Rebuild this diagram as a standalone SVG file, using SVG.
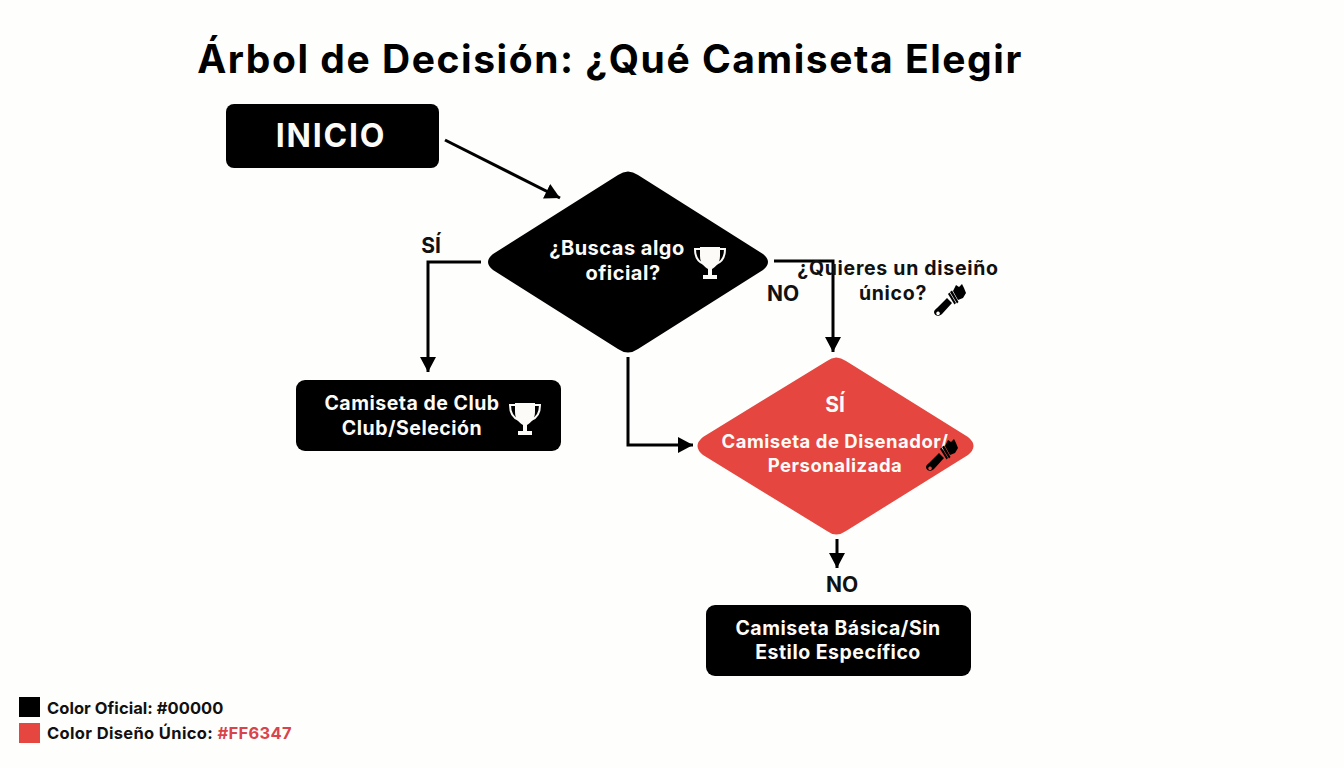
<svg xmlns="http://www.w3.org/2000/svg" width="1344" height="768" viewBox="0 0 1344 768">
<style>
text{font-family:"Inter","Liberation Sans",sans-serif;font-weight:700;text-anchor:middle}
.w{fill:#fdfbf8}.k{fill:#000}.t{font-size:20px;letter-spacing:.5px}.l{font-size:21px;fill:#111}.g{font-size:16.500px;text-anchor:start;fill:#111;letter-spacing:.05px}
.conn path{fill:none;stroke:#000;stroke-width:3}
</style>
<defs>
<marker id="a" markerUnits="userSpaceOnUse" markerWidth="18" markerHeight="18" refX="15" refY="8" orient="auto"><path d="M0 0L15 8L0 16Z" fill="#000"/></marker>
<g id="trophy"><path d="M-10-16H10V-7C10 1 5 4 2 6V12H7V16H-7V12H-2V6C-5 4-10 1-10-7Z"/><path d="M-10-14H-15C-15-6-12-1-6 1M10-14H15C15-6 12-1 6 1" fill="none" stroke-width="2" stroke="#fdfbf8"/></g>
<g id="brush"><path d="M3-10L6-16L9-14L12-17L14-13L16-8L13-3L8-1Z"/><path d="M0-9L2-10.500L8.500 1L7 2.500Z"/><path d="M-2-7L-0.500-8.500L6 2L4.500 3.500Z"/><path d="M-3-3L2 2L-8 13C-11 16-16 15-16 11C-16 9-14 8-13 7ZM-12 10.500A1.800 1.800 0 1 0-11.900 10.500Z" fill-rule="evenodd"/></g>
</defs>
<rect width="1344" height="768" fill="#fefefc"/>
<text id="title" x="610" y="73" style="font-size:39px;letter-spacing:1.550px" fill="#000">Árbol de Decisión: ¿Qué Camiseta Elegir</text>
<g class="conn" id="connectors">
<path d="M445 140L560 198" marker-end="url(#a)"/>
<path d="M481 262H428V372" marker-end="url(#a)"/>
<path d="M774 261H833V352" marker-end="url(#a)"/>
<path d="M628 357V445H693" marker-end="url(#a)"/>
<path d="M837 539V568" marker-end="url(#a)"/>
</g>
<g id="inicio"><rect x="226" y="104" width="213" height="64" rx="8" class="k"/><text x="331" y="147" style="font-size:32px;letter-spacing:1.800px" class="w">INICIO</text></g>
<g id="d1"><path d="M618 175Q628 168 638 175L763 254Q773 262 763 270L638 349Q628 356 618 349L493 270Q483 262 493 254Z" class="k"/>
<text x="617" y="255" class="t w">¿Buscas algo</text><text x="623" y="280" class="t w">oficial?</text>
<use href="#trophy" x="710" y="263" class="w"/></g>
<g id="club"><rect x="296" y="380" width="265" height="71" rx="9" class="k"/><text x="412" y="410" class="t w" style="font-size:19.500px">Camiseta de Club</text><text x="412" y="435" class="t w" style="font-size:19.500px">Club/Seleción</text>
<use href="#trophy" x="525" y="419" class="w"/></g>
<g id="d2"><path d="M827 361Q836 354 846 361L968 437Q979 446 968 455L846 531Q836 538 827 531L703 455Q692 446 703 437Z" fill="#e5463f"/>
<text x="835" y="412" class="w" style="font-size:21px">SÍ</text>
<text x="835" y="448" class="t w" style="font-size:18.500px">Camiseta de Disenador/</text><text x="835" y="472" class="t w" style="font-size:18.500px">Personalizada</text>
<use href="#brush" x="942" y="456" class="k"/></g>
<g id="basica"><rect x="706" y="605" width="265" height="71" rx="9" class="k"/><text x="838" y="635" class="t w" style="font-size:19.500px">Camiseta Básica/Sin</text><text x="838" y="659" class="t w" style="font-size:19.500px">Estilo Específico</text></g>
<g id="labels">
<text x="431" y="253" class="l">SÍ</text>
<text x="783" y="301" class="l">NO</text>
<text x="842" y="592" class="l">NO</text>
<text x="898" y="275" fill="#111" style="font-size:19.500px;letter-spacing:.7px">¿Quieres un diseiño</text>
<text x="893" y="300" fill="#111" style="font-size:19.500px;letter-spacing:.7px">único?</text>
<use href="#brush" x="950" y="301" class="k"/>
</g>
<g id="legend">
<rect x="19" y="697" width="21" height="20" class="k"/><text x="47" y="714" class="g">Color Oficial: #00000</text>
<rect x="19" y="723" width="21" height="20" fill="#e5463f"/><text x="47" y="739" class="g" style="letter-spacing:.35px">Color Diseño Único: <tspan fill="#d9434c">#FF6347</tspan></text>
</g>
</svg>
